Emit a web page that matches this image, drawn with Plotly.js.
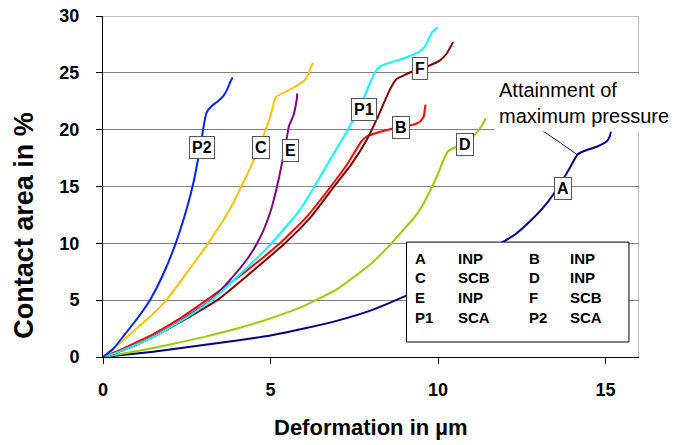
<!DOCTYPE html>
<html>
<head>
<meta charset="utf-8">
<script src="https://cdn.plot.ly/plotly-3.0.1.min.js"></script>
<style>html,body{margin:0;padding:0;background:#fff;}#chart{width:675px;height:445px;}</style>
</head>
<body>
<div id="chart"></div>
<script>
// ---- data ----
const curveNames = ['A', 'B', 'C', 'D', 'E', 'F', 'P1', 'P2'];
const curveTypes = ['INP', 'INP', 'SCB', 'INP', 'INP', 'SCB', 'SCA', 'SCA'];

const xA = [0, 1, 2, 3, 4, 5, 6, 7, 8, 8.9, 10, 11, 12.29, 12.8, 13.24, 13.6, 13.89, 14.16, 14.34, 14.74, 15.03, 15.13, 15.16];
const yA = [0, 0.3, 0.65, 1.05, 1.45, 1.9, 2.5, 3.2, 4.1, 5.2, 6.7, 8.5, 10.76, 12.1, 13.5, 15.0, 16.4, 17.8, 18.1, 18.5, 18.96, 19.4, 19.85];

const xB = [0, 0.5, 1.0, 1.49, 2.3, 3.09, 4.2, 5.28, 6.1, 6.8, 7.3, 7.72, 7.87, 8.26, 8.66, 9.21, 9.46, 9.58, 9.6, 9.63];
const yB = [0, 0.6, 1.3, 2.0, 3.4, 5, 7.4, 10, 12.4, 15, 17.0, 19.0, 19.4, 19.8, 20.1, 20.4, 20.7, 21.2, 21.7, 22.2];

const xC = [0, 0.5, 1.0, 1.5, 1.89, 2.5, 3.14, 3.78, 4.13, 4.5, 4.78, 5.0, 5.16, 5.48, 5.88, 6.0, 6.12, 6.19, 6.27];
const yC = [0, 1.2, 2.5, 3.8, 5.0, 7.4, 10, 12.95, 15, 17.3, 19.4, 21.2, 22.87, 23.36, 24.04, 24.3, 24.8, 25.4, 25.86];

const xD = [0, 1, 2, 3, 4, 5, 6, 7, 8, 8.61, 9.0, 9.3, 9.55, 9.76, 10.0, 10.16, 10.3, 10.55, 10.75, 11.05, 11.3, 11.43];
const yD = [0, 0.5, 1.1, 1.75, 2.5, 3.4, 4.5, 6.0, 8.2, 10, 11.3, 12.3, 13.4, 14.6, 16.1, 17.3, 18.1, 18.5, 18.7, 19.4, 20.3, 21.0];

const xE = [0, 0.5, 1.0, 1.5, 2.0, 2.5, 3.22, 3.8, 4.3, 4.58, 4.8, 5.0, 5.18, 5.36, 5.5, 5.55, 5.62, 5.68, 5.73, 5.78, 5.80];
const yE = [0, 0.5, 1.1, 1.8, 2.6, 3.55, 5.0, 6.8, 8.6, 9.9, 11.2, 12.8, 14.8, 17.3, 19.5, 20.3, 20.8, 21.2, 21.8, 22.6, 23.2];

const xF = [0, 0.5, 1.0, 1.64, 2.5, 3.41, 4.4, 5.43, 6.2, 6.9, 7.4, 7.87, 8.17, 8.56, 8.76, 9.0, 9.21, 9.71, 10.06, 10.26, 10.45];
const yF = [0, 0.5, 1.1, 2.0, 3.4, 5, 7.4, 10, 12.3, 15, 16.9, 19.1, 20.9, 23.5, 24.45, 24.8, 25.1, 25.6, 26.1, 26.7, 27.7];

const xP1 = [0, 0.5, 1.0, 1.64, 2.4, 3.24, 4.1, 5.03, 5.88, 6.31, 6.77, 7.37, 7.8, 8.12, 8.27, 8.56, 8.9, 9.26, 9.46, 9.61, 9.71, 9.81, 9.99];
const yP1 = [0, 0.5, 1.1, 2.0, 3.3, 5, 7.3, 10, 12.95, 15, 17.3, 20.3, 22.9, 25.1, 25.56, 25.9, 26.2, 26.6, 26.9, 27.3, 27.9, 28.5, 29.0];

const xP2 = [0, 0.3, 0.6, 1.0, 1.4, 1.8, 2.17, 2.49, 2.72, 2.9, 3.09, 3.25, 3.43, 3.6, 3.7, 3.8, 3.87];
const yP2 = [0, 0.7, 1.8, 3.3, 5.0, 7.3, 10.0, 12.95, 15.6, 18.4, 21.5, 22.1, 22.5, 23.0, 23.5, 24.2, 24.6];

const xTicks = [0, 5, 10, 15];
const yTicks = [0, 5, 10, 15, 20, 25, 30];

const xTitle = 'Deformation in µm';
const yTitle = 'Contact area in %';

// curve label anchor points (data coordinates)
const labelX = [13.72, 8.89, 4.73, 10.82, 5.59, 9.46, 7.78, 2.95];
const labelY = [14.86, 20.2, 18.4, 18.7, 18.2, 25.4, 21.8, 18.4];

// maximum pressure note and the point on curve A it refers to
const noteText = 'Attainment of<br>maximum pressure';
const noteTarget = [14.16, 17.8];
const noteStart = [12.94, 20.28];

// ---- styling ----
const seriesX = [xA, xB, xC, xD, xE, xF, xP1, xP2];
const seriesY = [yA, yB, yC, yD, yE, yF, yP1, yP2];
const colors = ['#000080', '#FF0000', '#FFC000', '#99CC00', '#800080', '#800000', '#00FFFF', '#0022FF'];
const FONT = 'Arial, "Liberation Sans", sans-serif';

const traces = curveNames.map((n, i) => ({
  x: seriesX[i], y: seriesY[i], type: 'scatter', mode: 'lines', name: n,
  line: {color: colors[i], width: 2, shape: 'spline', smoothing: 0.5},
  hoverinfo: 'skip', showlegend: false
}));

const annotations = [];
curveNames.forEach((n, i) => {
  annotations.push({
    x: labelX[i], y: labelY[i], xref: 'x', yref: 'y', text: n, showarrow: false,
    font: {family: FONT, size: 16, color: '#000', weight: 'bold'},
    bgcolor: '#fff', bordercolor: '#555', borderwidth: 1, borderpad: 2
  });
});

// legend table built from names/types
const legX0 = 9.06, legX1 = 15.70, legY0 = 1.32, legY1 = 10.11;
const colXName = [9.26, 12.66];
const colXType = [10.53, 13.88];
const rowY = [8.69, 7.0, 5.24, 3.48];
curveNames.forEach((n, i) => {
  const r = Math.floor(i / 2), c = i % 2;
  annotations.push({x: colXName[c], y: rowY[r], xref: 'x', yref: 'y', xanchor: 'left', yanchor: 'middle',
    text: n, showarrow: false, font: {family: FONT, size: 15, color: '#000', weight: 'bold'}});
  annotations.push({x: colXType[c], y: rowY[r], xref: 'x', yref: 'y', xanchor: 'left', yanchor: 'middle',
    text: curveTypes[i], showarrow: false, font: {family: FONT, size: 15, color: '#000', weight: 'bold'}});
});

annotations.push({
  x: 11.68, y: 22.34, xref: 'x', yref: 'y', xanchor: 'left', yanchor: 'middle', align: 'left',
  text: noteText, showarrow: false, bgcolor: '#fff', borderpad: 4,
  font: {family: FONT, size: 20, color: '#000'}
});

// axis titles
annotations.push({
  x: -0.1474, y: 0.388, xref: 'paper', yref: 'paper', xanchor: 'center', yanchor: 'middle',
  text: yTitle, textangle: -90, showarrow: false,
  font: {family: FONT, size: 27, color: '#000', weight: 'bold'}
});
annotations.push({
  x: 0.5, y: -0.207, xref: 'paper', yref: 'paper', xanchor: 'center', yanchor: 'middle',
  text: xTitle, showarrow: false,
  font: {family: FONT, size: 22, color: '#000', weight: 'bold'}
});

const shapes = [
  {type: 'line', xref: 'x', yref: 'y', x0: 0, x1: 16, y0: 30, y1: 30, line: {color: '#808080', width: 1}, layer: 'below'},
  {type: 'line', xref: 'x', yref: 'y', x0: 16, x1: 16, y0: 0, y1: 30, line: {color: '#808080', width: 1}, layer: 'below'},
  {type: 'rect', xref: 'x', yref: 'y', x0: legX0, x1: legX1, y0: legY0, y1: legY1,
    line: {color: '#000', width: 1}, fillcolor: '#fff', layer: 'above'},
  {type: 'line', xref: 'x', yref: 'y', x0: noteStart[0], y0: noteStart[1], x1: noteTarget[0], y1: noteTarget[1],
    line: {color: '#000080', width: 1}, layer: 'above'}
];

const layout = {
  width: 675, height: 445,
  margin: {l: 103, r: 36, t: 16, b: 88, pad: 0},
  paper_bgcolor: '#fff', plot_bgcolor: '#fff',
  font: {family: FONT, color: '#000'},
  showlegend: false,
  xaxis: {
    range: [0, 16], tickvals: xTicks, ticktext: xTicks.map(String),
    ticks: 'outside', ticklen: 6, tickcolor: '#000', tickwidth: 1,
    showline: true, linecolor: '#000', linewidth: 1, showgrid: false, zeroline: false,
    tickfont: {family: FONT, size: 18, color: '#000', weight: 'bold'},
    ticklabelstandoff: 10
  },
  yaxis: {
    range: [0, 30], tickvals: yTicks, ticktext: yTicks.map(String),
    ticks: 'outside', ticklen: 6, tickcolor: '#000', tickwidth: 1,
    showline: true, linecolor: '#000', linewidth: 1,
    showgrid: true, gridcolor: '#808080', gridwidth: 1, zeroline: false,
    tickfont: {family: FONT, size: 18, color: '#000', weight: 'bold'},
    ticklabelstandoff: 13
  },
  shapes: shapes,
  annotations: annotations
};

Plotly.newPlot('chart', traces, layout, {staticPlot: true, displayModeBar: false});
</script>
</body>
</html>
